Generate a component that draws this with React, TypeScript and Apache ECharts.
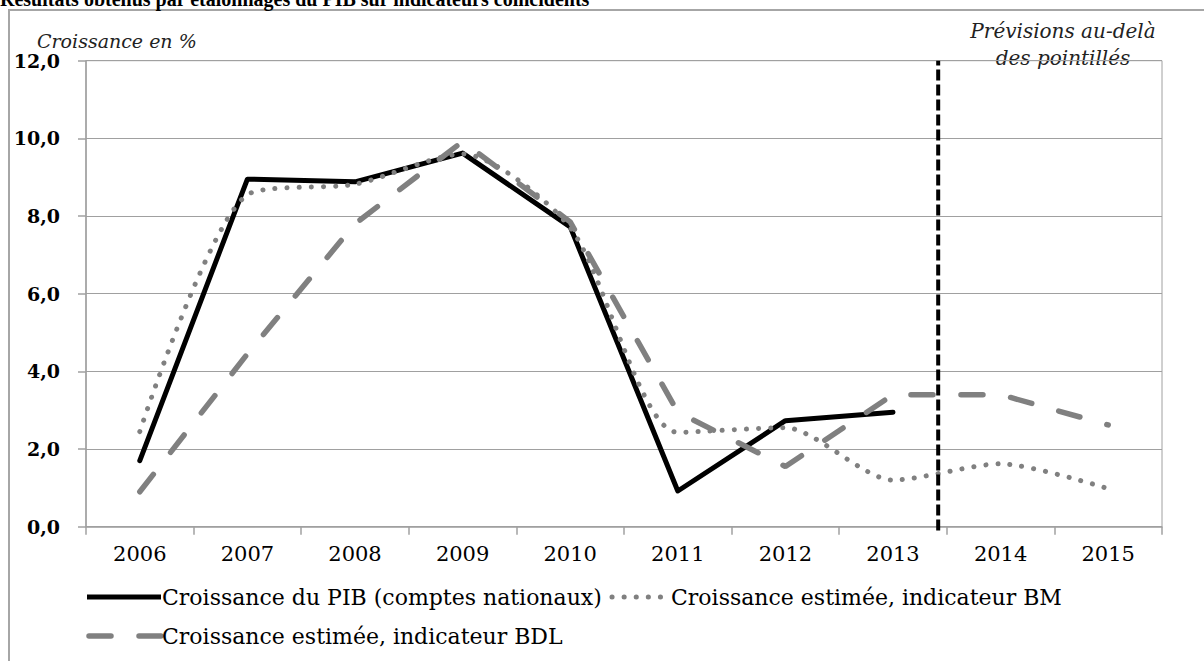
import React, { useEffect, useRef } from "react";
import * as echarts from "echarts";

const years = ["2006", "2007", "2008", "2009", "2010", "2011", "2012", "2013", "2014", "2015"];
const pibGrowth = [1.7, 8.95, 8.88, 9.62, 7.72, 0.92, 2.73, 2.95, null, null];
const bmEstimate = [2.45, 8.55, 8.82, 9.6, 7.7, 2.43, 2.55, 1.2, 1.62, 0.98];
const bdlEstimate = [0.9, 4.45, 7.8, 9.92, 7.85, 2.95, 1.55, 3.4, 3.4, 2.62];
const forecastBoundary = 7.42; // in category units (2006 = 0)
const forecastSpan = [-0.1, 12];
const seriesNames = [
  "Croissance du PIB (comptes nationaux)",
  "Croissance estimée, indicateur BM",
  "Croissance estimée, indicateur BDL",
];
const titleText = "Résultats obtenus par étalonnages du PIB sur indicateurs coïncidents";
const yAxisTitle = "Croissance en %";
const forecastNote = "Prévisions au-delà\ndes pointillés";

const GRAY = "#808080";
const AXIS = "#a0a0a0";

export default function App() {
  const ref = useRef<HTMLDivElement>(null);
  useEffect(() => {
    const chart = echarts.init(ref.current!, null, { renderer: "svg" });
    const legendFont = '22px "DejaVu Serif"';
    const row1 = 597;
    const row2 = 636;
    chart.setOption({
      animation: false,
      backgroundColor: "#ffffff",
      grid: { left: 86, right: 42, top: 60.7, bottom: 134.3, show: true, borderColor: AXIS, borderWidth: 1 },
      xAxis: [
        {
          type: "category",
          data: years,
          boundaryGap: true,
          axisLine: { onZero: false, lineStyle: { color: AXIS, width: 1.5 } },
          axisTick: { show: true, length: 8, lineStyle: { color: AXIS, width: 1.5 } },
          axisLabel: { color: "#000", fontFamily: "DejaVu Serif", fontSize: 21, margin: 17 },
        },
        { type: "value", min: -0.5, max: 9.5, show: false },
      ],
      yAxis: {
        type: "value",
        min: 0,
        max: 12,
        interval: 2,
        axisLine: { show: true, onZero: false, lineStyle: { color: AXIS, width: 1.5 } },
        axisTick: { show: true, length: 8, lineStyle: { color: AXIS, width: 1.5 } },
        splitLine: { lineStyle: { color: AXIS, width: 1.2 } },
        axisLabel: {
          color: "#000",
          fontFamily: "DejaVu Serif",
          fontWeight: "bold",
          fontSize: 19,
          margin: 26,
          formatter: (v: number) => v.toFixed(1).replace(".", ","),
        },
      },
      series: [
        {
          name: seriesNames[0],
          type: "line",
          data: pibGrowth,
          symbol: "none",
          lineStyle: { color: "#000", width: 5, cap: "round", join: "round" },
          z: 2,
        },
        {
          name: seriesNames[1],
          type: "line",
          data: bmEstimate,
          symbol: "none",
          smooth: 0.25,
          lineStyle: { color: GRAY, width: 5, type: [0.1, 12], cap: "round" },
          z: 3,
        },
        {
          name: seriesNames[2],
          type: "line",
          data: bdlEstimate,
          symbol: "none",
          lineStyle: { color: GRAY, width: 5.5, type: [22, 28], cap: "round" },
          z: 4,
        },
        {
          name: "forecast",
          type: "line",
          xAxisIndex: 1,
          data: forecastSpan.map((y) => [forecastBoundary, y]),
          symbol: "none",
          clip: false,
          silent: true,
          lineStyle: { color: "#000", width: 4, type: [11, 4] },
          z: 5,
        },
      ],
      graphic: [
        {
          type: "rect",
          shape: { x: 9, y: 10, width: 1400, height: 900 },
          style: { fill: "none", stroke: "#a6a6a6", lineWidth: 2 },
          silent: true,
          z: -10,
        },
        {
          type: "text",
          x: 0,
          y: -11,
          style: { text: titleText, font: 'bold 20px "Liberation Serif"', fill: "#000" },
          silent: true,
        },
        {
          type: "text",
          x: 37,
          y: 31,
          style: { text: yAxisTitle, font: 'italic 19px "DejaVu Serif"', fill: "#222" },
          silent: true,
        },
        {
          type: "text",
          x: 1063,
          y: 17,
          style: {
            text: forecastNote,
            font: 'italic 20px "DejaVu Serif"',
            fill: "#222",
            align: "center",
            lineHeight: 27,
          },
          silent: true,
        },
        // legend row 1
        { type: "line", shape: { x1: 87, y1: row1, x2: 161, y2: row1 }, style: { stroke: "#000", lineWidth: 5 }, silent: true },
        { type: "text", x: 162, y: row1, style: { text: seriesNames[0], font: legendFont, fill: "#000", verticalAlign: "middle" }, silent: true },
        { type: "line", shape: { x1: 612, y1: row1, x2: 668, y2: row1 }, style: { stroke: GRAY, lineWidth: 5, lineDash: [0.1, 12], lineCap: "round" }, silent: true },
        { type: "text", x: 671, y: row1, style: { text: seriesNames[1], font: legendFont, fill: "#000", verticalAlign: "middle" }, silent: true },
        // legend row 2
        { type: "line", shape: { x1: 89, y1: row2, x2: 161, y2: row2 }, style: { stroke: GRAY, lineWidth: 5.5, lineDash: [22, 28], lineCap: "round" }, silent: true },
        { type: "text", x: 162, y: row2, style: { text: seriesNames[2], font: legendFont, fill: "#000", verticalAlign: "middle" }, silent: true },
      ],
    });
    return () => chart.dispose();
  }, []);
  return <div ref={ref} style={{ position: "fixed", left: 0, top: 0, width: 1204, height: 661 }} />;
}
